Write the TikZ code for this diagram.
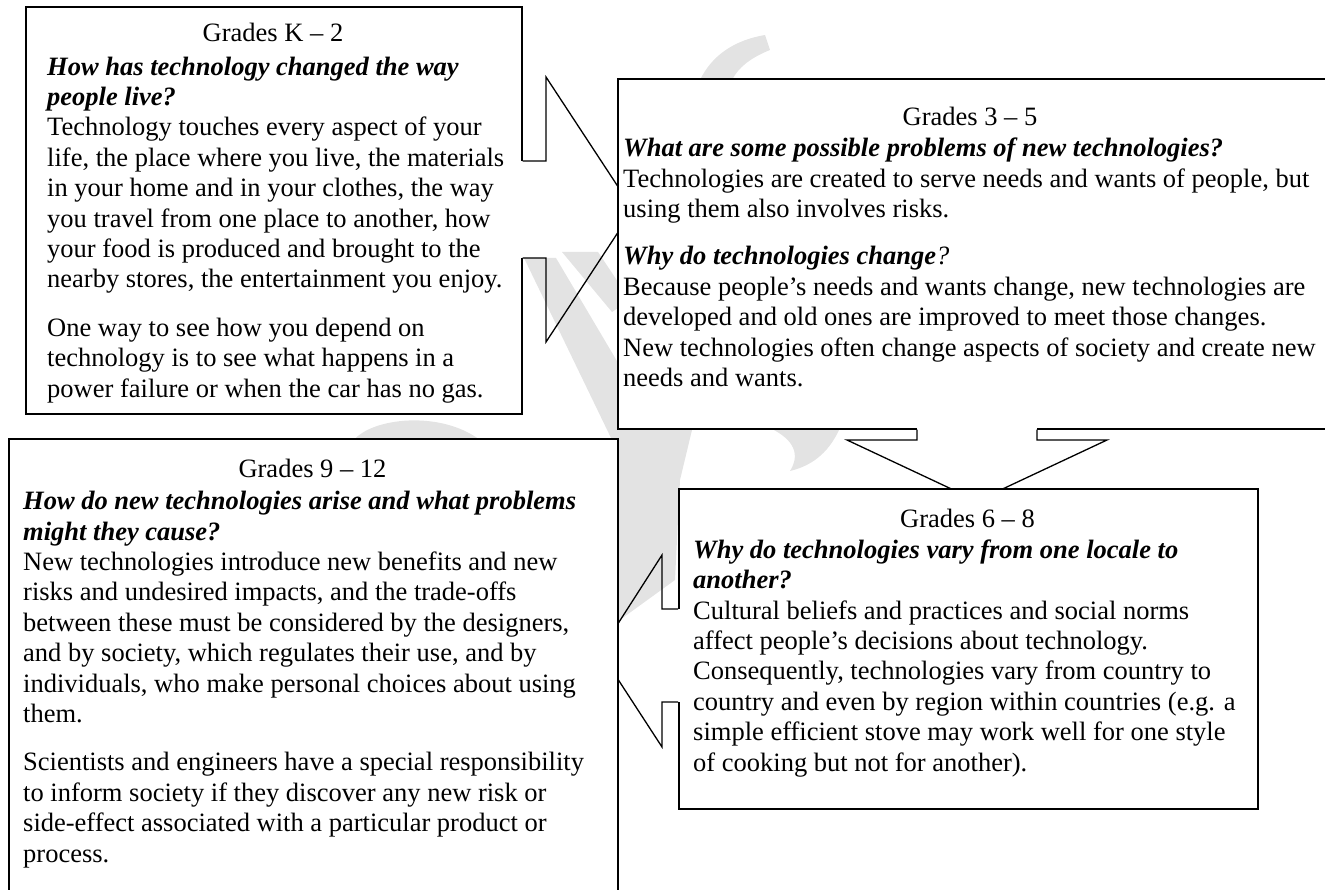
\documentclass[tikz,border=0pt]{standalone}
\usepackage{fontspec}
\setmainfont{Liberation Serif}
\begin{document}
\begin{tikzpicture}[x=1pt,y=-1pt,
  box/.style={draw=black,fill=white,line width=1.6pt,inner sep=0pt,anchor=north west},
  eraser/.style={fill=white},
  arrowline/.style={draw=black,line width=1.3pt,line join=miter},
  wm/.style={fill=gray!22},
  title/.style={anchor=base,inner sep=0pt,font=\fontsize{26.5}{30.4}\selectfont},
  body/.style={anchor=base west,inner sep=0pt,align=left,font=\fontsize{26.5}{30.4}\selectfont}]
\useasboundingbox (0,0) rectangle (1325,890);
\clip (0,0) rectangle (1325,890);
\newcommand{\bq}[1]{\textbf{\textit{#1}}}
% faint watermark pieces (behind the boxes)
\fill[wm] (524,258) -- (556,258) -- (640,400) -- (692,430) -- (680,480) -- (675,580) -- (617,622) -- (612,440) -- cycle;
\fill[wm] (562,252) -- (598,252) -- (630,300) -- (612,312) -- cycle;
\fill[wm] (354,440) .. controls (372,418) and (440,410) .. (480,440) -- cycle;
\fill[wm] (770,428) -- (840,428) .. controls (830,450) and (815,465) .. (790,471) .. controls (800,455) and (795,440) .. cycle;
\fill[wm] (700,80) .. controls (712,55) and (735,40) .. (765,35) -- (770,50) .. controls (750,58) and (738,68) .. (732,80) -- cycle;
% box K-2
\node[box,minimum width=496pt,minimum height=407pt] (k2) at (25,6) {};
% arrow K-2 -> 3-5
\fill[eraser] (519,161) rectangle (524,258);
\draw[arrowline] (k2.east |- 0,161) -- (546,161) -- (546,77) -- (633,209.5) -- (546,342) -- (546,258) -- (k2.east |- 0,258);
% box 3-5
\node[box,minimum width=712pt,minimum height=350pt] (g35) at (617,78) {};
% arrow 3-5 -> 6-8
\fill[eraser] (917,426) rectangle (1037,431);
\draw[arrowline] (917,0 |- g35.south) -- (917,440) -- (847,440) -- (977,501) -- (1107,440) -- (1037,440) -- (1037,0 |- g35.south);
% box 6-8
\node[box,minimum width=579pt,minimum height=320pt] (g68) at (678,488) {};
% arrow 6-8 -> 9-12
\fill[eraser] (675,609) rectangle (681,702);
\draw[arrowline] (g68.west |- 0,609) -- (662,609) -- (662,555) -- (600,651.7) -- (662,747) -- (662,702) -- (g68.west |- 0,702);
% box 9-12
\node[box,minimum width=609pt,minimum height=470pt] (g912) at (8,438) {};

% texts (anchor = baseline of the last line)
\node[title] (t1) at (273,42) {Grades K \textendash\ 2};
\node[body] (b1) at (47,397) {\bq{How has technology changed the way}\\
\bq{people live?}\\
Technology touches every aspect of your\\
life, the place where you live, the materials\\
in your home and in your clothes, the way\\
you travel from one place to another, how\\
your food is produced and brought to the\\
nearby stores, the entertainment you enjoy.\\[18pt]
One way to see how you depend on\\
technology is to see what happens in a\\
power failure or when the car has no gas.};

\node[title] (t2) at (970,126) {Grades 3 \textendash\ 5};
\node[body] (b2) at (623,386.5) {\bq{What are some possible problems of new technologies?}\\
Technologies are created to serve needs and wants of people, but\\
using them also involves risks.\\[17pt]
\bq{Why do technologies change}\textit{?}\\
Because people’s needs and wants change, new technologies are\\
developed and old ones are improved to meet those changes.\\
New technologies often change aspects of society and create new\\
needs and wants.};

\node[title] (t3) at (967.5,527) {Grades 6 \textendash\ 8};
\node[body] (b3) at (693,771) {\bq{Why do technologies vary from one locale to}\\
\bq{another?}\\
Cultural beliefs and practices and social norms\\
affect people’s decisions about technology.\\
Consequently, technologies vary from country to\\
country and even by region within countries (e.g. a\\
simple efficient stove may work well for one style\\
of cooking but not for another).};

\node[title] (t4) at (312.5,477) {Grades 9 \textendash\ 12};
\node[body] (b4) at (23,862) {\bq{How do new technologies arise and what problems}\\
\bq{might they cause?}\\
New technologies introduce new benefits and new\\
risks and undesired impacts, and the trade-offs\\
between these must be considered by the designers,\\
and by society, which regulates their use, and by\\
individuals, who make personal choices about using\\
them.\\[18pt]
Scientists and engineers have a special responsibility\\
to inform society if they discover any new risk or\\
side-effect associated with a particular product or\\
process.};
\end{tikzpicture}
\end{document}
